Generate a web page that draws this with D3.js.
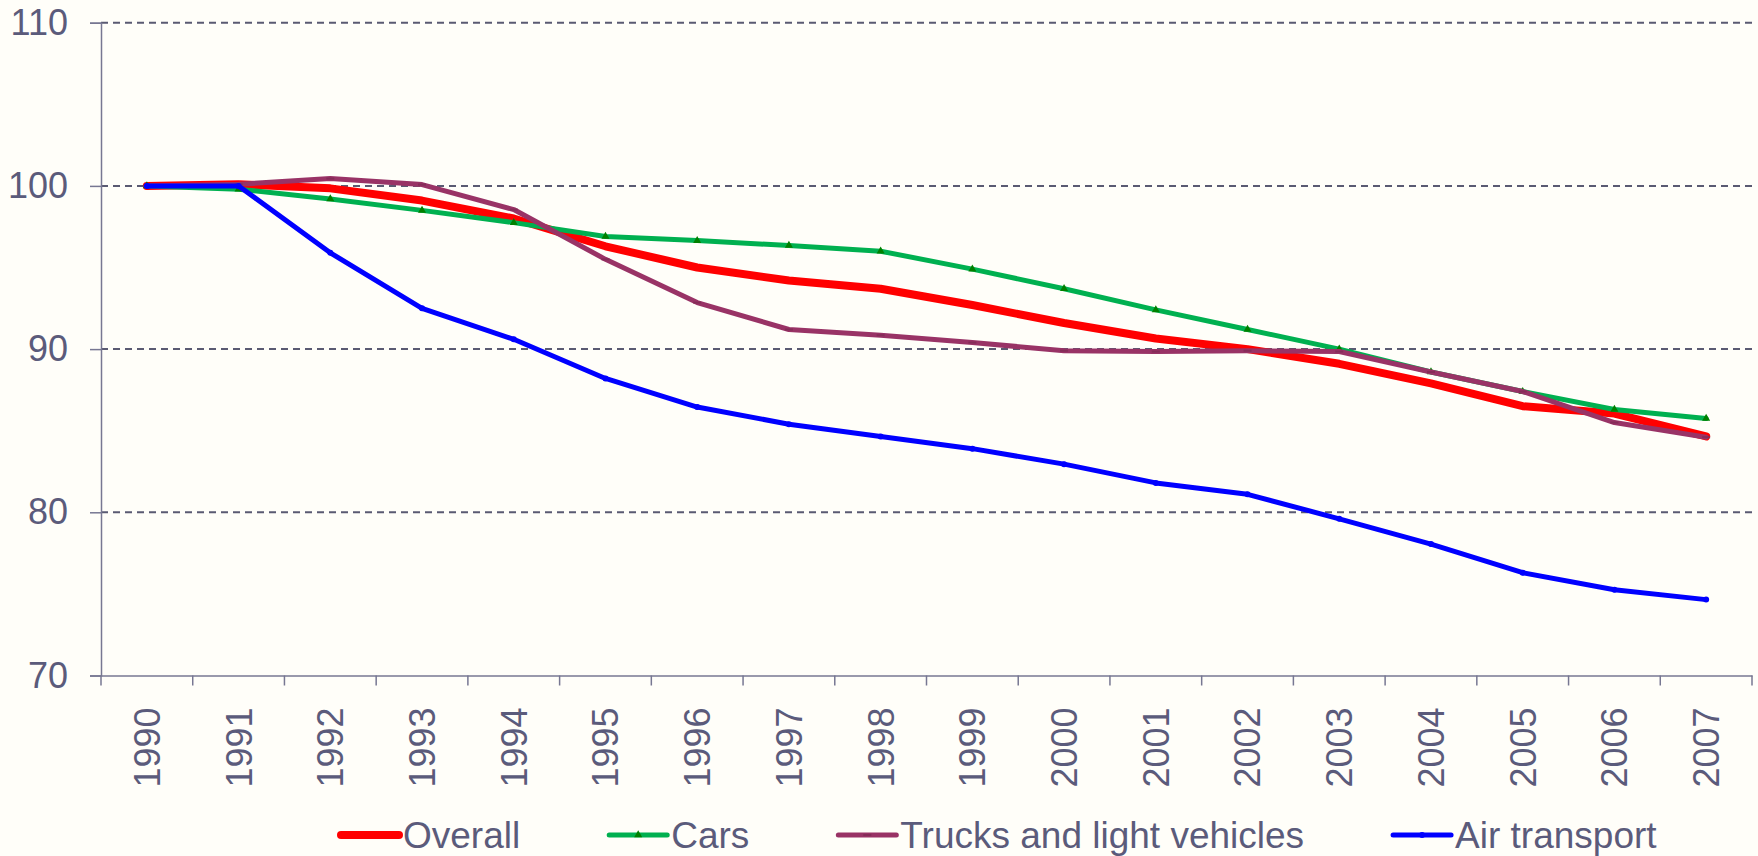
<!DOCTYPE html>
<html>
<head>
<meta charset="utf-8">
<script src="https://cdn.jsdelivr.net/npm/d3@7"></script>
<style>
  html,body{margin:0;padding:0;background:#fffef9;}
  svg text{font-family:"Liberation Sans",Arial,sans-serif;fill:#5b5b7b;}
</style>
</head>
<body>
<div id="chart"></div>
<script>
const years = ["1990","1991","1992","1993","1994","1995","1996","1997","1998",
               "1999","2000","2001","2002","2003","2004","2005","2006","2007"]
const overall = [100,100.1,99.85,99.1,98.0,96.3,95.0,94.2,93.7,92.7,91.6,90.65,90.0,89.1,87.9,86.5,86.05,84.65]
const cars    = [100,99.8,99.2,98.5,97.75,96.9,96.65,96.35,96.0,94.9,93.7,92.4,91.2,90.0,88.6,87.4,86.3,85.75]
const trucks  = [100,100.1,100.45,100.08,98.55,95.5,92.85,91.2,90.85,90.4,89.9,89.85,89.9,89.85,88.6,87.4,85.5,84.6]
const air     = [100,100.0,95.9,92.5,90.6,88.2,86.45,85.4,84.65,83.9,82.95,81.8,81.1,79.6,78.05,76.3,75.25,74.65]
const yTicks  = [70,80,90,100,110]

const series = [
  {name:"Overall", values:overall, color:"#ff0000", width:8, marker:"none"},
  {name:"Cars", values:cars, color:"#00b050", width:5, marker:"triangle"},
  {name:"Trucks and light vehicles", values:trucks, color:"#993366", width:5, marker:"dash"},
  {name:"Air transport", values:air, color:"#0000ff", width:5, marker:"dot"}
]

function render(){
  let width = 1758,
      height = 856,
      margin = {top:22.7, left:101, right:6, bottom:180.5},
      plotW = width - margin.left - margin.right,
      plotH = height - margin.top - margin.bottom,
      axisColor = "#777792",
      gridColor = "#5a5a72";

  const svg = d3.select("#chart").append("svg")
    .attr("width",width).attr("height",height)
    .style("display","block")
    .style("background-color","#fffef9")

  const x = d3.scaleBand().domain(years).range([margin.left, margin.left+plotW])
  const y = d3.scaleLinear().domain([70,110]).range([margin.top+plotH, margin.top])

  // dashed gridlines
  svg.append("g").selectAll("line")
    .data(yTicks.filter(d=>d>70))
    .enter().append("line")
    .attr("x1",margin.left).attr("x2",margin.left+plotW)
    .attr("y1",d=>y(d)).attr("y2",d=>y(d))
    .attr("stroke",gridColor).attr("stroke-width",2)
    .attr("stroke-dasharray","7,5")

  // y axis
  const yAxis = d3.axisLeft(y).tickValues(yTicks).tickSize(11).tickPadding(22)
  const yGroup = svg.append("g").attr("transform",`translate(${margin.left},0)`).call(yAxis)
  yGroup.select(".domain").attr("stroke",axisColor).attr("stroke-width",1.5)
  yGroup.selectAll(".tick line").attr("stroke",axisColor).attr("stroke-width",1.5)
  yGroup.selectAll(".tick text").style("font-size","36px").attr("fill","#5b5b7b")

  // x axis: labels at band centers, ticks at band edges
  const xAxis = d3.axisBottom(x).tickSize(0).tickPadding(0)
  const xGroup = svg.append("g").attr("transform",`translate(0,${margin.top+plotH})`).call(xAxis)
  xGroup.select(".domain").attr("stroke",axisColor).attr("stroke-width",1.5)
  xGroup.selectAll(".tick text")
    .style("font-size","36px").attr("fill","#5b5b7b")
    .attr("text-anchor","end")
    .attr("transform","rotate(-90)")
    .attr("x",-32).attr("y",0).attr("dy","0.36em")
  const edges = years.map(d=>x(d)).concat([x.range()[1]])
  xGroup.selectAll(".edge").data(edges).enter().append("line")
    .attr("class","edge")
    .attr("x1",d=>d).attr("x2",d=>d).attr("y1",0).attr("y2",10)
    .attr("stroke",axisColor).attr("stroke-width",1.5)

  const cx = d=>x(d)+x.bandwidth()/2
  const line = d3.line().x((d,i)=>cx(years[i])).y(d=>y(d))

  function marker(g, type, color, px, py){
    if(type=="triangle"){
      g.append("path").attr("d",d3.symbol(d3.symbolTriangle,28)())
        .attr("transform",`translate(${px},${py})`).attr("fill","#008000")
    } else if(type=="dash"){
      g.append("line").attr("x1",px-4).attr("x2",px+4).attr("y1",py).attr("y2",py)
        .attr("stroke",d3.color(color).darker(0.4)).attr("stroke-width",2)
    } else if(type=="dot"){
      g.append("circle").attr("cx",px).attr("cy",py).attr("r",3).attr("fill",color)
    }
  }

  series.forEach(s=>{
    const g = svg.append("g")
    g.append("path").datum(s.values)
      .attr("d",line)
      .attr("fill","none").attr("stroke",s.color)
      .attr("stroke-width",s.width)
      .attr("stroke-linejoin","round").attr("stroke-linecap","round")
    s.values.forEach((v,i)=>marker(g, s.marker, s.color, cx(years[i]), y(v)))
  })

  // legend
  const legend = svg.append("g").attr("transform","translate(341,835)")
  let pos = 0
  series.forEach(s=>{
    const item = legend.append("g").attr("transform",`translate(${pos},0)`)
    item.append("line").attr("x1",0).attr("x2",58).attr("y1",0).attr("y2",0)
      .attr("stroke",s.color).attr("stroke-width",s.width).attr("stroke-linecap","round")
    marker(item, s.marker, s.color, 29, 0)
    const t = item.append("text").attr("x",62).attr("y",0).attr("dy","0.36em")
      .style("font-size","37px").text(s.name)
    pos += 62 + t.node().getComputedTextLength() + 89
  })
}

render()
</script>
</body>
</html>
